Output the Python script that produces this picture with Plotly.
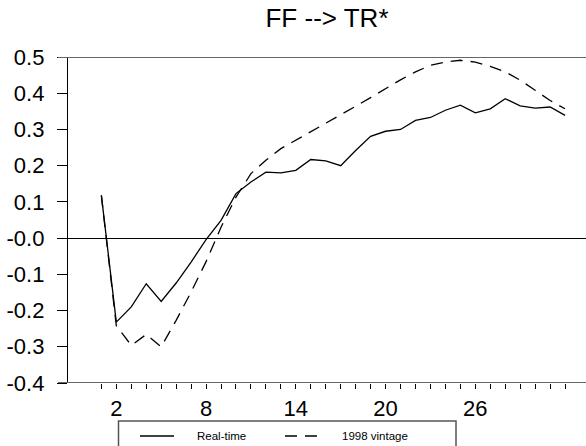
import plotly.graph_objects as go

# ---- data ----
steps = list(range(1, 33))
real_time = [0.118, -0.232, -0.190, -0.126, -0.175, -0.124, -0.066, -0.004,
             0.049, 0.123, 0.155, 0.182, 0.180, 0.187, 0.217, 0.213,
             0.200, 0.242, 0.281, 0.295, 0.300, 0.325, 0.333, 0.353,
             0.367, 0.346, 0.357, 0.385, 0.365, 0.359, 0.362, 0.339]
vintage_1998 = [0.118, -0.242, -0.296, -0.266, -0.300, -0.227, -0.149, -0.065,
                0.030, 0.113, 0.178, 0.215, 0.247, 0.270, 0.293, 0.316,
                0.339, 0.364, 0.388, 0.413, 0.437, 0.459, 0.477, 0.486,
                0.491, 0.486, 0.474, 0.459, 0.436, 0.408, 0.380, 0.357]
y_ticks = [0.5, 0.4, 0.3, 0.2, 0.1, 0.0, -0.1, -0.2, -0.3, -0.4]
y_tick_text = ["0.5", "0.4", "0.3", "0.2", "0.1", "-0.0", "-0.1", "-0.2", "-0.3", "-0.4"]
x_labels = {2: "2", 8: "8", 14: "14", 20: "20", 26: "26"}
series_names = ["Real-time", "1998 vintage"]
title_text = "FF --> TR*"

W, H = 586, 446
L, R, T, B = 68, 0, 57, 63
PW, PH = W - L - R, H - T - B

def px_x(px):
    return (px - L) / PW

def px_y(py):
    return (H - B - py) / PH

FONT = "Liberation Sans, Arial, sans-serif"

fig = go.Figure()
fig.add_trace(go.Scatter(x=steps, y=real_time, mode="lines", name=series_names[0],
                         line=dict(color="black", width=1.3), showlegend=False))
fig.add_trace(go.Scatter(x=steps, y=vintage_1998, mode="lines", name=series_names[1],
                         line=dict(color="black", width=1.3, dash="12px,8px"), showlegend=False))

shapes = []
# top frame line and bottom axis line (extend left like ticks)
for yv in (0.5, -0.4):
    shapes.append(dict(type="line", xref="paper", yref="y", x0=px_x(58), x1=1, y0=yv, y1=yv,
                       line=dict(color="#666666", width=2), layer="above"))
# legend box
shapes.append(dict(type="rect", xref="paper", yref="paper",
                   x0=px_x(118.5), x1=px_x(456), y0=px_y(421), y1=px_y(470),
                   line=dict(color="#555555", width=1.5), fillcolor="rgba(0,0,0,0)"))
# legend samples
shapes.append(dict(type="line", xref="paper", yref="paper",
                   x0=px_x(140), x1=px_x(174), y0=px_y(436), y1=px_y(436),
                   line=dict(color="black", width=1.3)))
shapes.append(dict(type="line", xref="paper", yref="paper",
                   x0=px_x(285), x1=px_x(318), y0=px_y(436), y1=px_y(436),
                   line=dict(color="black", width=1.3, dash="12px,8px")))

annotations = [
    dict(text=series_names[0], xref="paper", yref="paper", x=px_x(195), y=px_y(436),
         xanchor="left", yanchor="middle", showarrow=False,
         font=dict(family=FONT, size=11.5, color="black")),
    dict(text=series_names[1], xref="paper", yref="paper", x=px_x(340), y=px_y(436),
         xanchor="left", yanchor="middle", showarrow=False,
         font=dict(family=FONT, size=11.5, color="black")),
]

fig.update_layout(
    width=W, height=H,
    margin=dict(l=L, r=R, t=T, b=B, pad=0),
    paper_bgcolor="white", plot_bgcolor="white",
    title=dict(text=title_text, x=327 / W, xanchor="center",
               y=1 - 18 / H, yanchor="middle", yref="container",
               font=dict(family=FONT, size=26, color="black")),
    font=dict(family=FONT, color="black"),
    shapes=shapes, annotations=annotations, showlegend=False,
    xaxis=dict(range=[-1.23, 33.4], tickmode="array", tickvals=steps,
               ticktext=[x_labels.get(s, "") for s in steps],
               ticks="outside", ticklen=5, tickwidth=1, tickcolor="black",
               showgrid=False, zeroline=False, showline=False,
               tickfont=dict(family=FONT, size=22, color="black"),
               ticklabelstandoff=1),
    yaxis=dict(range=[-0.4, 0.5], tickmode="array", tickvals=y_ticks, ticktext=y_tick_text,
               ticks="outside", ticklen=10, tickwidth=1, tickcolor="black",
               showgrid=False, zeroline=True, zerolinecolor="black", zerolinewidth=1.3,
               showline=True, linecolor="black", linewidth=1.3,
               tickfont=dict(family=FONT, size=22, color="black"),
               ticklabelstandoff=8),
)

fig.write_html("out.html")
